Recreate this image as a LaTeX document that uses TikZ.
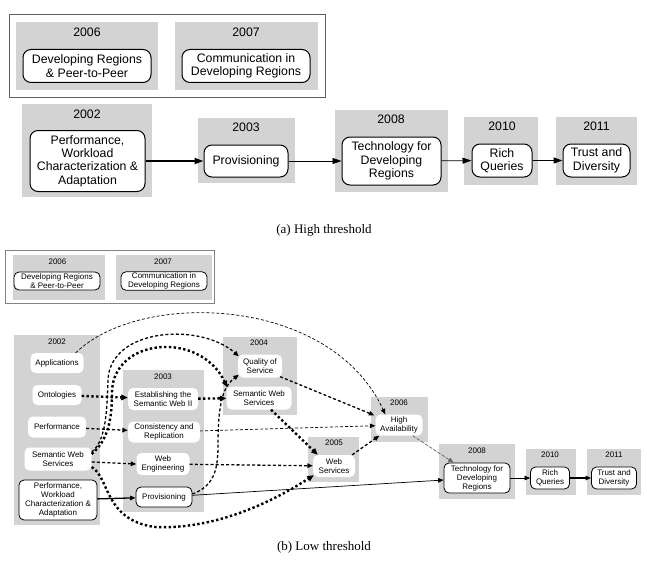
\documentclass[tikz,border=0pt]{standalone}
\usepackage{fontspec}
\setmainfont{Liberation Sans}
\newfontfamily\capfont{Liberation Serif}
\usetikzlibrary{arrows.meta,calc}
\definecolor{clgray}{RGB}{211,211,211}
\definecolor{boxgray}{RGB}{95,95,95}
\definecolor{lboxgray}{RGB}{130,130,130}
\begin{document}
\begin{tikzpicture}[x=1pt,y=-1pt,
  cluster/.style={fill=clgray,draw=none},
  bigfont/.style={font=\fontsize{12.3}{13.4}\selectfont},
  smallfont/.style={font=\fontsize{8}{9}\selectfont},
  tnode/.style={bigfont,draw=black,line width=1pt,fill=white,rounded corners=8pt,align=center,inner sep=1pt},
  bnode/.style={smallfont,fill=white,rounded corners=5pt,align=center,inner sep=1pt},
  bnodeb/.style={bnode,draw=black,line width=0.8pt},
  tlab/.style={bigfont,inner sep=0pt},
  blab/.style={smallfont,inner sep=0pt},
  captext/.style={font=\capfont\fontsize{13}{15}\selectfont,inner sep=0pt},
  ttip/.style={-{Triangle[length=9pt,width=6pt]}},
  btip/.style={-{Triangle[length=5.5pt,width=4.5pt]}},
  btipb/.style={-{Triangle[length=6.5pt,width=5.5pt]}},
  tthick/.style={ttip,line width=1.8pt},
  tthin/.style={ttip,line width=0.7pt},
  tmed/.style={ttip,line width=1.3pt},
  sthin/.style={btip,line width=0.7pt},
  sthick/.style={btip,line width=1.3pt},
  eone/.style={btip,line width=0.7pt,dash pattern=on 3pt off 2pt},
  eonegray/.style={eone,draw=black!60,fill=black!60},
  etwo/.style={btip,line width=1.3pt,dash pattern=on 3pt off 2.2pt},
  ethree/.style={btipb,line width=2.4pt,dash pattern=on 2.4pt off 2.4pt}
]
\useasboundingbox (0,0) rectangle (647,567);
\fill[white] (0,0) rectangle (647,567);

% ===== (a) High threshold =====
\draw[boxgray,line width=1pt] (9,15) rectangle (325,98);
\fill[cluster] (16,22) rectangle (158,90);
\fill[cluster] (175,22) rectangle (318,90);
\fill[cluster] (22,104) rectangle (152,197);
\fill[cluster] (198,118) rectangle (295,183);
\fill[cluster] (335,110) rectangle (448,192);
\fill[cluster] (464,117) rectangle (538,185);
\fill[cluster] (556,117) rectangle (637,185);

\node[tlab] (t06l) at (87,32.5) {2006};
\node[tlab] (t07l) at (246,32.5) {2007};
\node[tlab] (t02l) at (87,114) {2002};
\node[tlab] (t03l) at (246,127) {2003};
\node[tlab] (t08l) at (391,119.5) {2008};
\node[tlab] (t10l) at (502,126) {2010};
\node[tlab] (t11l) at (596.5,126) {2011};

\node[tnode,minimum width=128,minimum height=33] (t06n) at (87,66) {Developing Regions\\\& Peer-to-Peer};
\node[tnode,minimum width=128,minimum height=33] (t07n) at (246,66) {Communication in\\Developing Regions};
\node[tnode,minimum width=115,minimum height=61] (t02n) at (87.5,161) {Performance,\\Workload\\Characterization \&\\Adaptation};
\node[tnode,minimum width=84,minimum height=32] (t03n) at (246,161) {Provisioning};
\node[tnode,minimum width=99,minimum height=48] (t08n) at (391.5,161) {Technology for\\Developing\\Regions};
\node[tnode,minimum width=60,minimum height=33] (t10n) at (502,160.5) {Rich\\Queries};
\node[tnode,minimum width=67,minimum height=33] (t11n) at (596.5,160.5) {Trust and\\Diversity};

\draw[tthick] (t02n) -- (t03n);
\draw[tthin] (t03n) -- (t08n);
\draw[tthin] (t08n) -- (t10n);
\draw[tmed] (t10n) -- (t11n);

\node[captext] (capa) at (324,230) {(a) High threshold};

% ===== (b) Low threshold =====
\draw[lboxgray,line width=0.8pt] (5,250) rectangle (214,303);
\fill[cluster] (13,255) rectangle (105,300);
\fill[cluster] (116,255) rectangle (212,300);
\node[blab] (b06l) at (57.5,262) {2006};
\node[blab] (b07l) at (163,262) {2007};
\node[bnodeb,minimum width=86,minimum height=18] (b06n) at (57,281) {Developing Regions\\\& Peer-to-Peer};
\node[bnodeb,minimum width=86,minimum height=18] (b07n) at (164,281) {Communication in\\Developing Regions};

\fill[cluster] (14,335) rectangle (100,525);
\fill[cluster] (123,370) rectangle (204,512);
\fill[cluster] (223,337) rectangle (297,415);
\fill[cluster] (308,437) rectangle (359,482);
\fill[cluster] (371,397) rectangle (428,442);
\fill[cluster] (439,444) rectangle (515,499);
\fill[cluster] (526,449) rectangle (576,495);
\fill[cluster] (587,449) rectangle (641,495);

\node[blab] (c02l) at (57,342) {2002};
\node[blab] (c03l) at (163,377) {2003};
\node[blab] (c04l) at (259,343) {2004};
\node[blab] (c05l) at (334,443) {2005};
\node[blab] (c06l) at (399,403) {2006};
\node[blab] (c08l) at (477,451) {2008};
\node[blab] (c10l) at (550,455) {2010};
\node[blab] (c11l) at (614,455) {2011};

\node[bnode,minimum width=53,minimum height=20] (app) at (57,363) {Applications};
\node[bnode,minimum width=49,minimum height=20] (ont) at (57,395) {Ontologies};
\node[bnode,minimum width=58,minimum height=21] (perf) at (57,427) {Performance};
\node[bnode,minimum width=67,minimum height=23] (sws02) at (58,459) {Semantic Web\\Services};
\node[bnodeb,minimum width=78,minimum height=40] (pwca) at (58,500) {Performance,\\Workload\\Characterization \&\\Adaptation};
\node[bnode,minimum width=70,minimum height=22] (est) at (163,399) {Establishing the\\Semantic Web II};
\node[bnode,minimum width=72,minimum height=21] (cons) at (164,432) {Consistency and\\Replication};
\node[bnode,minimum width=53,minimum height=22] (weng) at (163,464) {Web\\Engineering};
\node[bnodeb,minimum width=56,minimum height=20] (prov) at (164,497) {Provisioning};
\node[bnode,minimum width=44,minimum height=23] (qos) at (260,366) {Quality of\\Service};
\node[bnode,minimum width=65,minimum height=23] (sws04) at (259,398) {Semantic Web\\Services};
\node[bnode,minimum width=42,minimum height=22] (ws) at (334,466) {Web\\Services};
\node[bnode,minimum width=47,minimum height=21] (ha) at (399,425) {High\\Availability};
\node[bnodeb,minimum width=66,minimum height=30] (tech) at (477,478) {Technology for\\Developing\\Regions};
\node[bnodeb,minimum width=39,minimum height=22] (rich) at (550,478) {Rich\\Queries};
\node[bnodeb,minimum width=45,minimum height=22] (trust) at (614,478) {Trust and\\Diversity};

% connectors
\draw[eone] ($(app.north east)+(-8,0)$) .. controls (140,290) and (330,295) .. ($(ha.north west)+(10,0)$);
\draw[etwo] ($(sws02.east)+(0,-7)$) .. controls (104,442) and (107,420) .. (108,380) .. controls (110,328) and (200,322) .. ($(qos.north west)+(1,2)$);
\draw[ethree] ($(sws02.east)+(0,-5)$) .. controls (108,440) and (112,420) .. (112,392) .. controls (113,338) and (200,330) .. ($(sws04.north west)+(1,1)$);
\draw[etwo] ($(sws02.east)+(0,3)$) -- (weng.west);
\draw[ethree] ($(sws02.east)+(0,8)$) .. controls (110,478) and (104,520) .. (155,527) .. controls (220,530) and (280,497) .. ($(ws.south west)+(1,-2)$);
\draw[ethree] (ont) -- (est);
\draw[etwo] (perf) -- (cons);
\draw[sthick] (pwca) -- (prov);
\draw[ethree] (est) -- (sws04);
\draw[eone] (cons) -- (ha);
\draw[etwo] (weng) -- (ws);
\draw[etwo] ($(prov.east)+(0,-3)$) .. controls (214,486) and (218,470) .. (218,445) .. controls (218,400) and (224,386) .. ($(qos.south west)+(1,-3)$);
\draw[sthin] (prov) -- (tech);
\draw[ethree] ($(sws04.south)+(12,0)$) -- ($(ws.north west)+(5,0)$);
\draw[etwo] ($(qos.south east)+(-2,-1)$) -- ($(ha.north west)+(-1,1)$);
\draw[etwo] ($(ws.north east)+(-3,0)$) -- ($(ha.south west)+(4,0)$);
\draw[eonegray] ($(ha.south east)+(-10,0)$) -- ($(tech.north west)+(10,0)$);
\draw[sthin] (tech) -- (rich);
\draw[sthick] (rich) -- (trust);

\node[captext] (capb) at (324,547) {(b) Low threshold};
\end{tikzpicture}
\end{document}
